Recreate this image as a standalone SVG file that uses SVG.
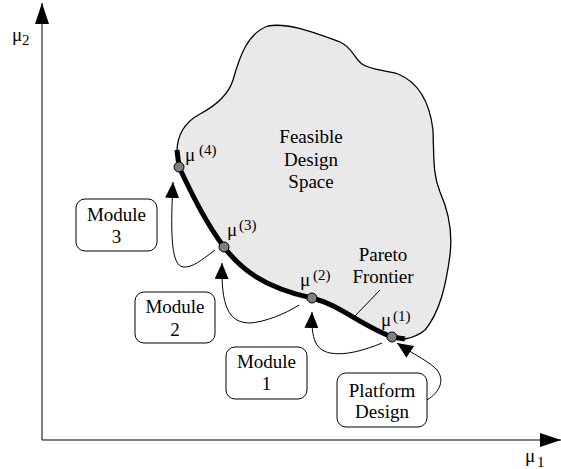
<svg xmlns="http://www.w3.org/2000/svg" width="561" height="469" viewBox="0 0 561 469" font-family="'Liberation Serif', 'DejaVu Serif', serif">
<style>
text{font-family:'Liberation Serif','DejaVu Serif',serif;fill:#000}
.lbl{font-size:19px;text-anchor:middle}
.mu{font-size:19px}
.sup{font-size:15px}
.box{fill:#fff;stroke:#000;stroke-width:1}
.conn{fill:none;stroke:#000;stroke-width:1}
.dot{fill:#808080;stroke:#000;stroke-width:1}
</style>
<defs>
<marker id="arr" viewBox="0 0 16 14" markerWidth="16" markerHeight="14" refX="16" refY="7" orient="auto" markerUnits="userSpaceOnUse"><path d="M0,0 L16,7 L0,14 z" fill="#000"/></marker>
<marker id="axarr" viewBox="0 0 21 14" markerWidth="21" markerHeight="14" refX="21" refY="7" orient="auto" markerUnits="userSpaceOnUse"><path d="M0,0 L21,7 L0,14 z" fill="#000"/></marker>
</defs>
<g id="axes">
<path d="M42,440 L42,3" class="conn" stroke-width="1.3" marker-end="url(#axarr)"/>
<path d="M42,440 L561,440" class="conn" stroke-width="1.3" marker-end="url(#axarr)"/>
<text x="12" y="41" style="font-size:19px">μ</text><text x="22" y="45" style="font-size:15px">2</text>
<text x="525" y="462" style="font-size:19px">μ</text><text x="537" y="467" style="font-size:15px">1</text>
</g>
<g id="feasible-space">
<path d="M177,152 C177,135 185,122 200,114 C215,106 228,96 233,80 C240,55 248,33 268,26 C290,22 320,35 340,42 C352,47 354,58 362,64 C370,70 385,70 398,74 C420,83 430,105 433,130 C434,160 433,175 440,192 C448,210 453,230 450,255 C446,285 440,312 425,330 C418,336 410,338 405,339 L392,337 C360,325 340,305 312,298 C262,287 240,268 224,247 C205,222 190,190 179,167 Z" fill="#e9e9e9" stroke="#000" stroke-width="1.3"/>
<text class="lbl" x="311" y="143">Feasible</text>
<text class="lbl" x="311" y="166">Design</text>
<text class="lbl" x="311" y="188">Space</text>
</g>
<g id="pareto-frontier">
<path d="M177,150 L179,167 C190,190 205,222 224,247 C240,268 262,287 312,298 C340,305 360,325 392,337 L405,339" fill="none" stroke="#000" stroke-width="5"/>
<path d="M380,290 L355,316" class="conn"/>
<text class="lbl" x="383" y="261">Pareto</text>
<text class="lbl" x="383" y="283">Frontier</text>
</g>
<g id="connectors">
<path d="M215,250 C202,260 192,268 183,267 C172,265 170,240 173,182" class="conn" marker-end="url(#arr)"/>
<path d="M299,305 C285,314 265,322 250,323 C228,323 221,305 222,263" class="conn" marker-end="url(#arr)"/>
<path d="M382,343 C365,350 345,356 330,353 C316,350 311,340 312,312" class="conn" marker-end="url(#arr)"/>
<path d="M427,400 C440,392 445,380 437,370 C430,362 418,357 397,343" class="conn" marker-end="url(#arr)"/>
</g>
<g id="mu4"><circle class="dot" cx="179" cy="167" r="5"/><text class="mu" x="185" y="161">μ</text><text class="sup" x="199" y="155">(4)</text></g>
<g id="mu3"><circle class="dot" cx="224" cy="247" r="5"/><text class="mu" x="227" y="236">μ</text><text class="sup" x="239" y="230">(3)</text></g>
<g id="mu2"><circle class="dot" cx="312" cy="298" r="5"/><text class="mu" x="300" y="286">μ</text><text class="sup" x="313" y="280">(2)</text></g>
<g id="mu1"><circle class="dot" cx="392" cy="337" r="5"/><text class="mu" x="381" y="326">μ</text><text class="sup" x="393" y="321">(1)</text></g>
<g id="module3"><rect class="box" x="76" y="199" width="81" height="52" rx="9"/><text class="lbl" x="116.5" y="221">Module</text><text class="lbl" x="116.5" y="243">3</text></g>
<g id="module2"><rect class="box" x="135" y="292" width="80" height="51" rx="9"/><text class="lbl" x="175" y="313">Module</text><text class="lbl" x="175" y="336">2</text></g>
<g id="module1"><rect class="box" x="226" y="347" width="81" height="52" rx="9"/><text class="lbl" x="266.5" y="368">Module</text><text class="lbl" x="266.5" y="390">1</text></g>
<g id="platform"><rect class="box" x="337" y="373" width="90" height="54" rx="9"/><text class="lbl" x="382" y="397">Platform</text><text class="lbl" x="382" y="418">Design</text></g>
</svg>
